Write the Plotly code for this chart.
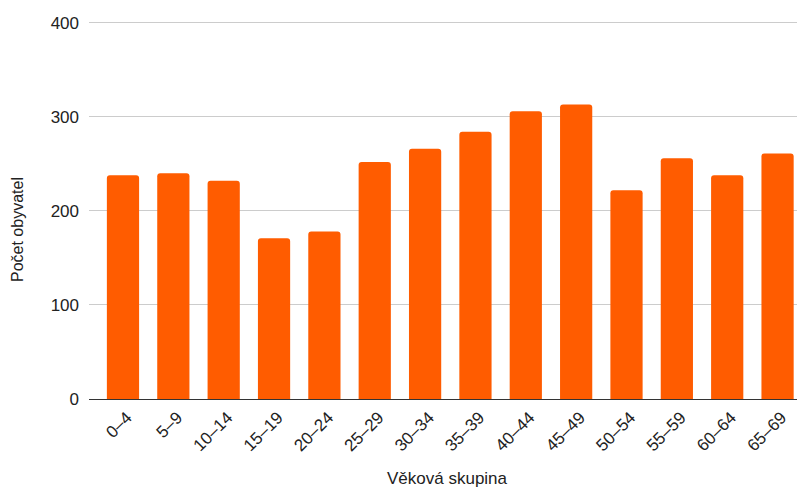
import plotly.graph_objects as go

categories = ["0–4", "5–9", "10–14", "15–19", "20–24", "25–29", "30–34",
              "35–39", "40–44", "45–49", "50–54", "55–59", "60–64", "65–69"]
values = [238, 240, 232, 171, 178, 252, 266, 284, 306, 313, 222, 256, 238, 261]
y_ticks = [0, 100, 200, 300, 400]

FONT = "Liberation Sans, Arial, sans-serif"

fig = go.Figure()
fig.add_trace(go.Bar(
    x=list(range(len(categories))),
    y=values,
    marker=dict(color="#ff5c00", line=dict(width=0)),
    hoverinfo="skip",
))

# page body has an 8px default margin, so the figure is offset by 8px
fig.update_layout(
    width=797, height=481,
    margin=dict(l=81, r=0, t=11, b=90),
    paper_bgcolor="white", plot_bgcolor="white",
    bargap=0.36,
    barcornerradius=3,
    showlegend=False,
    font=dict(family=FONT, size=16, color="#222222"),
    xaxis=dict(
        tickmode="array",
        tickvals=list(range(len(categories))),
        ticktext=categories,
        tickangle=-45,
        range=[-0.675, 13.545],
        automargin=False,
        showgrid=False,
        showline=True, linecolor="#333333", linewidth=1,
        ticks="", ticklabelstandoff=1, ticklabelshift=4,
        tickfont=dict(family=FONT, size=17, color="#222222"),
        zeroline=False,
    ),
    yaxis=dict(
        range=[0, 404],
        automargin=False,
        tickmode="array", tickvals=y_ticks,
        showgrid=True, gridcolor="#cccccc", gridwidth=1,
        zeroline=False, showline=False,
        ticks="", ticklabelstandoff=9,
        tickfont=dict(family=FONT, size=17, color="#222222"),
    ),
    annotations=[
        dict(text="Věková skupina", xref="paper", yref="paper",
             x=0.5, y=0, yshift=-79, xanchor="center", yanchor="middle",
             showarrow=False, font=dict(family=FONT, size=17, color="#222222")),
        dict(text="Počet obyvatel", xref="paper", yref="paper",
             x=0, xshift=-72, y=0.5, yshift=-21, textangle=-90,
             xanchor="center", yanchor="middle",
             showarrow=False, font=dict(family=FONT, size=16, color="#222222")),
    ],
)

fig.write_html("out.html")
